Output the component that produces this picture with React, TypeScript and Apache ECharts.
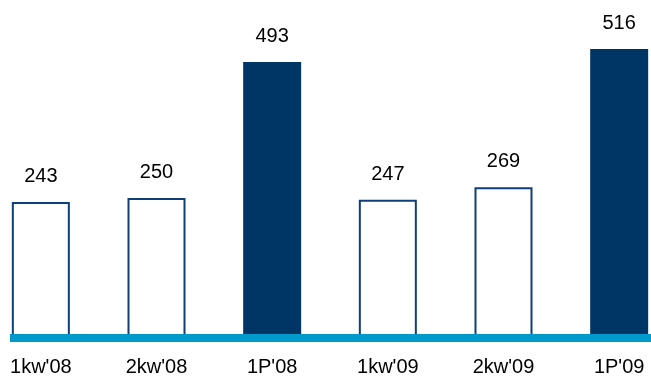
import React, { useEffect, useRef } from "react";
import * as echarts from "echarts";

const categories = ["1kw'08", "2kw'08", "1P'08", "1kw'09", "2kw'09", "1P'09"];
const values = [243, 250, 493, 247, 269, 516];
const isHalfYear = [false, false, true, false, false, true];

const NAVY = "#003665";
const OUTLINE = "#0f3f78";
const CYAN = "#0099cc";

export default function App() {
  const ref = useRef<HTMLDivElement>(null);
  useEffect(() => {
    if (!ref.current) return;
    const chart = echarts.init(ref.current, undefined, { renderer: "svg" });
    chart.setOption({
      animation: false,
      grid: {
        left: -17,
        right: -26,
        top: 2,
        bottom: 40,
        outerBoundsMode: "none",
        containLabel: false,
      },
      xAxis: {
        type: "category",
        data: categories,
        axisLine: { show: false },
        axisTick: { show: false },
        axisLabel: {
          margin: 20,
          color: "#000",
          fontSize: 20,
          lineHeight: 16,
          fontFamily: "Liberation Sans, Arial, sans-serif",
          interval: 0,
        },
      },
      yAxis: {
        type: "value",
        min: 0,
        max: 600,
        show: false,
        splitLine: { show: false },
      },
      series: [
        {
          type: "bar",
          barWidth: 58,
          data: values.map((v, i) => ({
            value: v,
            itemStyle: isHalfYear[i]
              ? { color: NAVY, borderWidth: 0 }
              : { color: "#ffffff", borderColor: OUTLINE, borderWidth: 2 },
          })),
          label: {
            show: true,
            position: "top",
            distance: 17,
            color: "#000",
            fontSize: 20,
            fontFamily: "Liberation Sans, Arial, sans-serif",
          },
        },
      ],
      graphic: [
        {
          type: "rect",
          z: 100,
          shape: { x: 10, y: 334, width: 641, height: 8 },
          style: { fill: CYAN },
        },
      ],
    });
    return () => chart.dispose();
  }, []);
  return (
    <div
      ref={ref}
      style={{ position: "fixed", left: 0, top: 0, width: 651, height: 378 }}
    />
  );
}
